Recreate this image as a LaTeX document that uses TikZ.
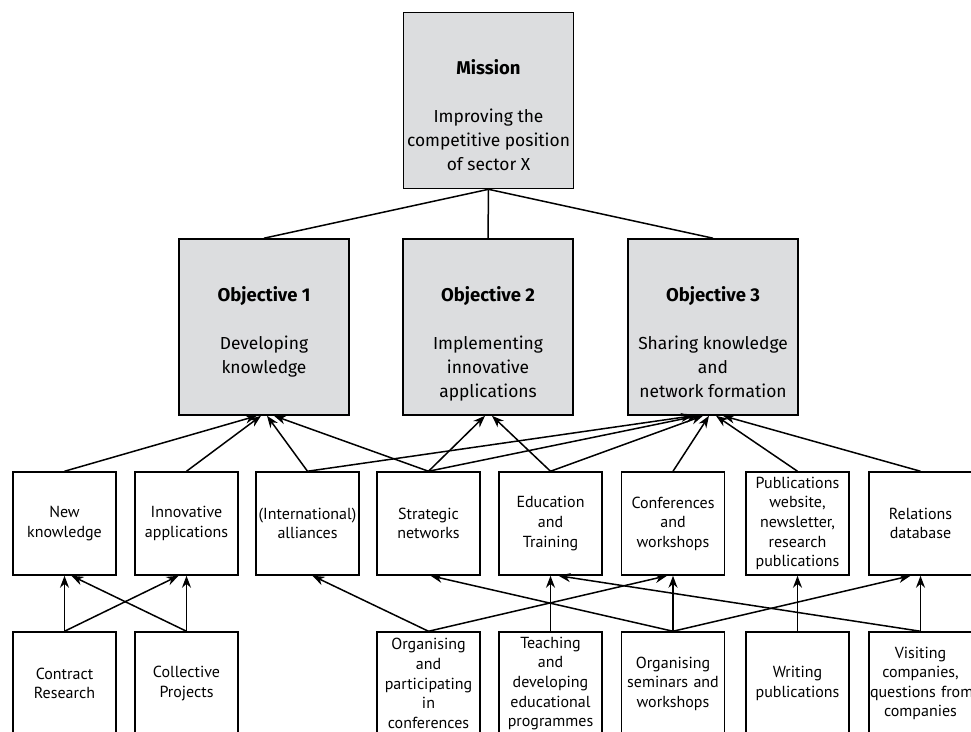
\documentclass[tikz,border=0pt]{standalone}
\usepackage{fontspec}
\setmainfont{PT Sans}
\newfontfamily\goalfont{Fira Sans}
\usetikzlibrary{arrows.meta}
\definecolor{goalgray}{RGB}{220,221,223}
\tikzset{
    >={Stealth[length=12pt,width=9pt]},
    plan/.style={
        goal/.append style={draw,line width=1.6pt,fill=goalgray,inner sep=0pt,font=\goalfont\fontsize{17.4}{24}\selectfont},
        task/.append style={draw,line width=1.5pt,minimum width=103pt,minimum height=103pt,inner sep=1pt,text width=101pt,align=center,font=\fontsize{16}{19.6}\selectfont},
        link/.append style={->,line width=1.5pt},
        tie/.append style={line width=1.5pt}
    }
}
\newcommand{\goaltext}[2]{\parbox[c][176pt][t]{170pt}{\centering\vspace*{47pt}{\fontsize{18.5}{24}\selectfont\bfseries #1}\\[24pt]#2}}

\begin{document}
\begin{tikzpicture}[plan,x=1pt,y=-1pt]
    \useasboundingbox (0,0) rectangle (971,731);

    % mission and objectives
    \node[goal] (mission) at (488.5,100.5) {\goaltext{Mission}{Improving the\\competitive position\\of sector X}};
    \node[goal] (obj1) at (264,327) {\goaltext{Objective 1}{Developing\\knowledge}};
    \node[goal] (obj2) at (488,327) {\goaltext{Objective 2}{Implementing\\innovative\\applications}};
    \node[goal] (obj3) at (713,327) {\goaltext{Objective 3}{Sharing knowledge\\and\\network formation}};

    % results
    \node[task] (newk) at (64.5,523.5) {New\\knowledge};
    \node[task] (innov) at (186.5,523.5) {Innovative\\applications};
    \node[task] (alli) at (307.5,523.5) {(International)\\alliances};
    \node[task] (strat) at (428.5,523.5) {Strategic\\networks};
    \node[task] (edu) at (550.5,523.5) {Education\\and\\Training};
    \node[task] (conf) at (673,523.5) {Conferences\\and\\workshops};
    \node[task] (pubs) at (797.5,523.5) {Publications\\website,\\newsletter,\\research\\publications};
    \node[task] (rel) at (920.5,523.5) {Relations\\database};

    % activities
    \node[task] (contr) at (64.5,683.5) {Contract\\Research};
    \node[task] (coll) at (186.5,683.5) {Collective\\Projects};
    \node[task] (orgconf) at (428.5,683.5) {Organising\\and\\participating\\in\\conferences};
    \node[task] (teach) at (550.5,683.5) {Teaching\\and\\developing\\educational\\programmes};
    \node[task] (orgsem) at (673,683.5) {Organising\\seminars and\\workshops};
    \node[task] (writ) at (797.5,683.5) {Writing\\publications};
    \node[task] (visit) at (920.5,683.5) {Visiting\\companies,\\questions~from\\companies};

    \draw[tie] (mission.south) -- (obj1.north);
    \draw[tie] (mission.south) -- (obj2.north);
    \draw[tie] (mission.south) -- (obj3.north);

    \draw[link] (newk.north) -- ([xshift=-7pt]obj1.south);
    \draw[link] (innov.north) -- ([xshift=-3pt]obj1.south);
    \draw[link] (alli.north) -- ([xshift=3pt]obj1.south);
    \draw[link] (strat.north) -- ([xshift=10pt]obj1.south);
    \draw[link] (strat.north) -- ([xshift=-3pt]obj2.south);
    \draw[link] (edu.north) -- ([xshift=4pt]obj2.south);
    \draw[link] (alli.north) -- ([xshift=-20pt]obj3.south);
    \draw[link] (strat.north) -- ([xshift=-15pt]obj3.south);
    \draw[link] (edu.north) -- ([xshift=-10pt]obj3.south);
    \draw[link] (conf.north) -- ([xshift=-4pt]obj3.south);
    \draw[link] (pubs.north) -- ([xshift=3pt]obj3.south);
    \draw[link] (rel.north) -- ([xshift=10pt]obj3.south);

    \draw[link] (contr.north) -- (newk.south);
    \draw[link] (contr.north) -- ([xshift=-8pt]innov.south);
    \draw[link] (coll.north) -- (innov.south);
    \draw[link] (coll.north) -- ([xshift=7pt]newk.south);
    \draw[link] (orgconf.north) -- ([xshift=5pt]alli.south);
    \draw[link] (orgconf.north) -- ([xshift=-6pt]conf.south);
    \draw[link] (teach.north) -- (edu.south);
    \draw[link] (orgsem.north) -- ([xshift=2pt]strat.south);
    \draw[link] (orgsem.north) -- (conf.south);
    \draw[link] (orgsem.north) -- ([xshift=-10pt]rel.south);
    \draw[link] (writ.north) -- (pubs.south);
    \draw[link] (visit.north) -- (rel.south);
    \draw[link] (visit.north) -- ([xshift=8pt]edu.south);
\end{tikzpicture}
\end{document}
